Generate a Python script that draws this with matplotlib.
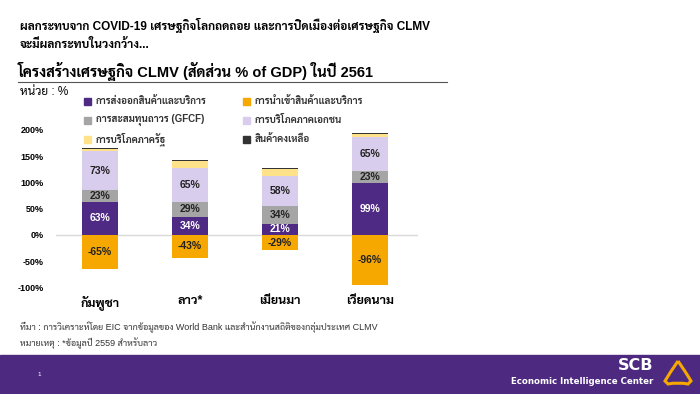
import matplotlib
matplotlib.use("Agg")
import matplotlib.pyplot as plt
from matplotlib import font_manager as fm
from matplotlib.patches import Rectangle, PathPatch
from matplotlib.path import Path

# data (% of GDP, 2561)
countries = ["กัมพูชา", "ลาว*", "เมียนมา", "เวียดนาม"]
exports = [63, 34, 21, 99]
gfcf = [23, 29, 34, 23]
private_cons = [73, 65, 58, 65]
gov_cons = [5, 13, 13, 5]
inventory = [1, 1, 1, 2]
imports = [-65, -43, -29, -96]

series_names = ["การส่งออกสินค้าและบริการ", "การนำเข้าสินค้าและบริการ",
                "การสะสมทุนถาวร (GFCF)", "การบริโภคภาคเอกชน",
                "การบริโภคภาครัฐ", "สินค้าคงเหลือ"]
yticks = [-100, -50, 0, 50, 100, 150, 200]

C_EXP = "#4e2a84"
C_IMP = "#f6a800"
C_GFCF = "#a5a5a5"
C_PRIV = "#d9cdee"
C_GOV = "#ffe28a"
C_INV = "#333333"
C_BAND = "#4d2a80"

# pick a Thai font that exists
names = {f.name for f in fm.fontManager.ttflist}
thai_font = "DejaVu Sans"
for cand in ["Sarabun", "Noto Sans Thai Looped", "Noto Sans Thai", "Anuphan"]:
    if cand in names:
        thai_font = cand
        break
FAM = ["Liberation Sans", thai_font]
plt.rcParams["font.family"] = FAM

W, H = 700, 394
fig = plt.figure(figsize=(7, 3.94), dpi=100)


def fx(x):
    return x / W


def fy(y):
    return 1 - y / H


# titles
fig.text(fx(20), fy(25), "ผลกระทบจาก COVID-19 เศรษฐกิจโลกถดถอย และการปิดเมืองต่อเศรษฐกิจ CLMV",
         fontsize=8.5, fontweight="bold", va="center")
fig.text(fx(20), fy(45), "จะมีผลกระทบในวงกว้าง...", fontsize=8.5, fontweight="bold", va="center")
fig.text(fx(18), fy(71), "โครงสร้างเศรษฐกิจ CLMV (สัดส่วน % of GDP) ในปี 2561",
         fontsize=10.5, fontweight="bold", va="center")
fig.add_artist(plt.Line2D([fx(18), fx(447)], [fy(82), fy(82)], color="#555555", lw=0.8))
fig.text(fx(20), fy(92), "หน่วย : %", fontsize=8.5, va="center")

# axes: zero at y=235px, 50% = 26.3px
top_px, bot_px, left_px, right_px = 120, 292, 56, 418
ppu = 26.3 / 50
ax = fig.add_axes([fx(left_px), fy(bot_px), (right_px - left_px) / W, (bot_px - top_px) / H])
ax.set_ylim((235 - bot_px) / ppu, (235 - top_px) / ppu)
ax.set_xlim((left_px - 100) / 90, (right_px - 100) / 90)

x = list(range(len(countries)))
bw = 0.39
ax.axhline(0, color="#d9d9d9", lw=1, zorder=1)
ax.bar(x, exports, bw, color=C_EXP, zorder=2)
b1 = [e + g for e, g in zip(exports, gfcf)]
ax.bar(x, gfcf, bw, bottom=exports, color=C_GFCF, zorder=2)
b2 = [b + p for b, p in zip(b1, private_cons)]
ax.bar(x, private_cons, bw, bottom=b1, color=C_PRIV, zorder=2)
b3 = [b + g for b, g in zip(b2, gov_cons)]
ax.bar(x, gov_cons, bw, bottom=b2, color=C_GOV, zorder=2)
ax.bar(x, inventory, bw, bottom=b3, color=C_INV, zorder=2)
ax.bar(x, imports, bw, color=C_IMP, zorder=2)

lbl = dict(ha="center", va="center", fontsize=7.5, fontweight="bold")
for i in x:
    ax.text(i, exports[i] / 2, f"{exports[i]}%", color="white", **lbl)
    ax.text(i, exports[i] + gfcf[i] / 2, f"{gfcf[i]}%", color="#222222", **lbl)
    ax.text(i, b1[i] + private_cons[i] / 2, f"{private_cons[i]}%", color="#222222", **lbl)
    ax.text(i, imports[i] / 2, f"{imports[i]}%", color="#222222", **lbl)

ax.set_yticks(yticks)
ax.set_yticklabels([f"{t}%" for t in yticks], fontsize=6.5, fontweight="bold")
ax.set_xticks(x)
ax.set_xticklabels(countries, fontsize=9, fontweight="bold")
ax.tick_params(length=0)
ax.tick_params(axis="y", pad=9)
ax.tick_params(axis="x", pad=2)
for s in ax.spines.values():
    s.set_visible(False)
ax.patch.set_alpha(0)

# legend (manual, two columns)
leg_cols = [C_EXP, C_IMP, C_GFCF, C_PRIV, C_GOV, C_INV]
for k, (name, col) in enumerate(zip(series_names, leg_cols)):
    cx = 84 if k % 2 == 0 else 243
    cy = [101, 120, 139][k // 2]
    fig.add_artist(Rectangle((fx(cx), fy(cy + 4)), 7 / W, 7 / H, color=col, transform=fig.transFigure))
    fig.text(fx(cx + 12), fy(cy), name, fontsize=7, fontweight="bold", color="#333333", va="center")

# footer notes
fig.text(fx(20), fy(327), "ที่มา : การวิเคราะห์โดย EIC จากข้อมูลของ World Bank และสำนักงานสถิติของกลุ่มประเทศ CLMV",
         fontsize=6.5, va="center", color="#333333")
fig.text(fx(20), fy(343), "หมายเหตุ : *ข้อมูลปี 2559 สำหรับลาว", fontsize=6.5, va="center", color="#333333")

# bottom band
fig.add_artist(Rectangle((0, 0), 1, (H - 355) / H, color=C_BAND, transform=fig.transFigure))
fig.text(fx(37), fy(375), "1", fontsize=4.5, color="white", va="center")
fig.text(fx(653), fy(366), "SCB", fontsize=11.5, fontweight="bold", color="white", ha="right", va="center",
         family=["DejaVu Sans"])
fig.text(fx(653), fy(381), "Economic Intelligence Center", fontsize=6.2, fontweight="bold", color="white",
         ha="right", va="center", family=["DejaVu Sans"])

# logo outline
lx, ly = 665, 361
pts = [(lx + 13, ly), (lx + 4, ly + 13), (lx, ly + 20), (lx + 3, ly + 23), (lx + 13, ly + 21),
       (lx + 23, ly + 23), (lx + 26, ly + 20), (lx + 22, ly + 13), (lx + 13, ly)]
codes = [Path.MOVETO, Path.CURVE3, Path.CURVE3, Path.LINETO, Path.CURVE3, Path.CURVE3,
         Path.LINETO, Path.CURVE3, Path.CURVE3]
logo = Path([(fx(a), fy(b)) for a, b in pts], codes)
fig.add_artist(PathPatch(logo, facecolor="none", edgecolor=C_IMP, lw=2.2, transform=fig.transFigure))

fig.savefig("out.png")
